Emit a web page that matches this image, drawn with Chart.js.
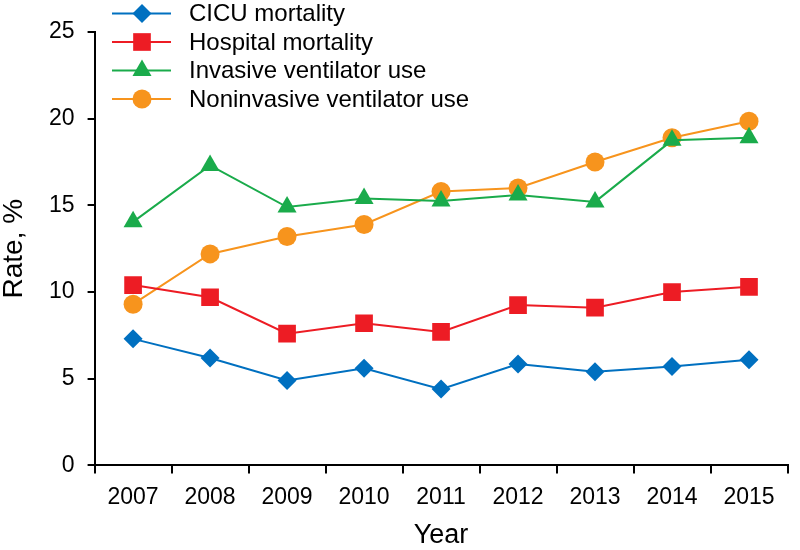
<!DOCTYPE html>
<html>
<head>
<meta charset="utf-8">
<script src="https://cdn.jsdelivr.net/npm/chart.js@4.4.1/dist/chart.umd.min.js"></script>
<style>
  html, body { margin: 0; padding: 0; background: #fff; }
  #wrap { width: 800px; height: 550px; }
</style>
</head>
<body>
<div id="wrap"><canvas id="chart" width="800" height="550"></canvas></div>
<script>
Chart.defaults.font.family = '"Liberation Sans", Arial, sans-serif';
Chart.defaults.color = '#000';

const YEARS = ['2007', '2008', '2009', '2010', '2011', '2012', '2013', '2014', '2015'];
const CICU_MORTALITY = [7.3, 6.2, 4.9, 5.6, 4.4, 5.85, 5.4, 5.7, 6.1];
const HOSPITAL_MORTALITY = [10.4, 9.7, 7.6, 8.2, 7.7, 9.25, 9.1, 10.0, 10.3];
const INVASIVE_VENT = [14.05, 17.3, 14.9, 15.4, 15.25, 15.6, 15.2, 18.75, 18.9];
const NONINVASIVE_VENT = [9.3, 12.2, 13.2, 13.9, 15.8, 16.0, 17.5, 18.9, 19.85];
const Y_TICKS = [0, 5, 10, 15, 20, 25];

function series(label, data, color, style, radius) {
    return {
        label,
        data,
        borderColor: color,
        backgroundColor: color,
        borderWidth: 2,
        pointStyle: style,
        pointRadius: radius,
        pointHoverRadius: radius,
        pointBorderWidth: 0,
        tension: 0,
    };
}

// legend drawn inside the plot, top-left, line + marker like the original
const insideLegend = {
    id: 'insideLegend',
    afterDraw(chart) {
        const ctx = chart.ctx;
        ctx.save();
        ctx.font = '24px "Liberation Sans", Arial, sans-serif';
        ctx.textBaseline = 'middle';
        chart.data.datasets.forEach((ds, i) => {
            const y = 13.5 + i * 28.5;
            ctx.strokeStyle = ds.borderColor;
            ctx.lineWidth = 2;
            ctx.beginPath();
            ctx.moveTo(112, y);
            ctx.lineTo(171, y);
            ctx.stroke();
            ctx.fillStyle = ds.backgroundColor;
            Chart.helpers.drawPoint(ctx, {
                pointStyle: ds.pointStyle,
                radius: ds.pointRadius,
                rotation: 0,
                borderWidth: 0,
            }, 142, y);
            ctx.fillStyle = '#000';
            ctx.fillText(ds.label, 189, y + 1);
        });
        ctx.restore();
    },
};

new Chart(document.getElementById('chart'), {
    type: 'line',
    data: {
        labels: YEARS,
        datasets: [
            series('CICU mortality', CICU_MORTALITY, '#0070c0', 'rectRot', 9.5),
            series('Hospital mortality', HOSPITAL_MORTALITY, '#ed1c24', 'rect', 12.5),
            series('Invasive ventilator use', INVASIVE_VENT, '#1aab4b', 'triangle', 11),
            series('Noninvasive ventilator use', NONINVASIVE_VENT, '#f7941d', 'circle', 9.5),
        ],
    },
    options: {
        responsive: false,
        animation: false,
        layout: { padding: { top: 32, right: 1, left: 0, bottom: 1 } },
        plugins: {
            legend: { display: false },
            tooltip: { enabled: false },
        },
        scales: {
            x: {
                offset: true,
                grid: {
                    offset: true,
                    drawOnChartArea: false,
                    color: '#000',
                    tickLength: 8,
                    lineWidth: 2,
                },
                border: { color: '#000', width: 2 },
                ticks: { font: { size: 23 }, padding: 10, maxRotation: 0 },
                title: {
                    display: true, text: 'Year',
                    font: { size: 27, lineHeight: 1 },
                    padding: { top: 1, bottom: 0 },
                },
            },
            y: {
                min: 0,
                max: 25,
                afterBuildTicks: axis => { axis.ticks = Y_TICKS.map(v => ({ value: v })); },
                grid: {
                    drawOnChartArea: false,
                    color: '#000',
                    tickLength: 7,
                    lineWidth: 2,
                },
                border: { color: '#000', width: 2 },
                ticks: { font: { size: 23 }, padding: 13 },
                title: {
                    display: true, text: 'Rate, %',
                    font: { size: 28, lineHeight: 1 },
                    padding: { top: 0, bottom: 8 },
                },
            },
        },
    },
    plugins: [insideLegend],
});
</script>
</body>
</html>
